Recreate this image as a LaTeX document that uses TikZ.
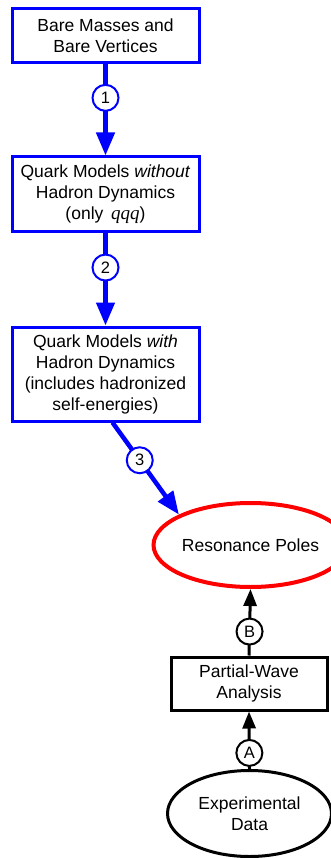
\documentclass[tikz,border=0pt]{standalone}
\usepackage{fontspec}
\setmainfont{Liberation Sans}
\newfontfamily\serifit{Liberation Serif}
\usetikzlibrary{arrows.meta,shapes.geometric}
\begin{document}
\begin{tikzpicture}[x=1pt,y=-1pt,
  txt/.style={font=\fontsize{17.5}{21}\selectfont, align=center, inner sep=0pt},
  bluebox/.style={txt, draw=blue, line width=3pt, minimum width=187pt},
  blackbox/.style={txt, draw=black, line width=3pt, minimum width=156pt},
  redell/.style={txt, ellipse, draw=red, line width=4pt, minimum width=158pt, minimum height=84pt},
  blackell/.style={txt, ellipse, draw=black, line width=3pt, minimum width=164pt, minimum height=86pt},
  bluearrow/.style={draw=blue, line width=4.5pt, -{Triangle[length=23pt,width=18pt]}},
  blackarrow/.style={draw=black, line width=3pt, -{Triangle[length=17pt,width=13pt]}},
  bluenum/.style={circle, draw=blue, fill=white, line width=2pt, minimum size=26pt, inner sep=0pt, font=\fontsize{16.5}{16.5}\selectfont},
  blacknum/.style={circle, draw=black, fill=white, line width=2pt, minimum size=26pt, inner sep=0pt, font=\fontsize{16.5}{16.5}\selectfont}
]
\useasboundingbox (0,0) rectangle (331,858);
\node[bluebox, minimum height=54pt] (b1) at (105.5,35.5) {Bare Masses and\\Bare Vertices};
\node[bluebox, minimum height=75pt] (b2) at (105.5,194.5) {Quark Models \textit{without}\\Hadron Dynamics\\(only \,{\serifit\itshape\fontsize{19}{21}\selectfont qqq})};
\node[bluebox, minimum height=94pt] (b3) at (105.5,374) {Quark Models \textit{with}\\Hadron Dynamics\\(includes hadronized\\self-energies)};
\node[redell] (res) at (250.5,545) {Resonance Poles};
\node[blackbox, minimum height=53pt] (pwa) at (249,683.5) {Partial-Wave\\Analysis};
\node[blackell] (exp) at (249.5,813.5) {Experimental\\Data};

\draw[bluearrow] (b1.south) -- node[bluenum, pos=0.37] (n1) {1} (b2.north);
\draw[bluearrow] (b2.south) -- node[bluenum, pos=0.37] (n2) {2} (b3.north);
\coordinate (s3) at ([xshift=7pt]b3.south);
\draw[bluearrow] (s3) -- node[bluenum, pos=0.41] (n3) {3} (res.157);
\draw[blackarrow] (pwa.north) -- node[blacknum, pos=0.36] (nB) {B} (res.south);
\draw[blackarrow] (exp.north) -- node[blacknum, pos=0.28] (nA) {A} (pwa.south);
\end{tikzpicture}
\end{document}
